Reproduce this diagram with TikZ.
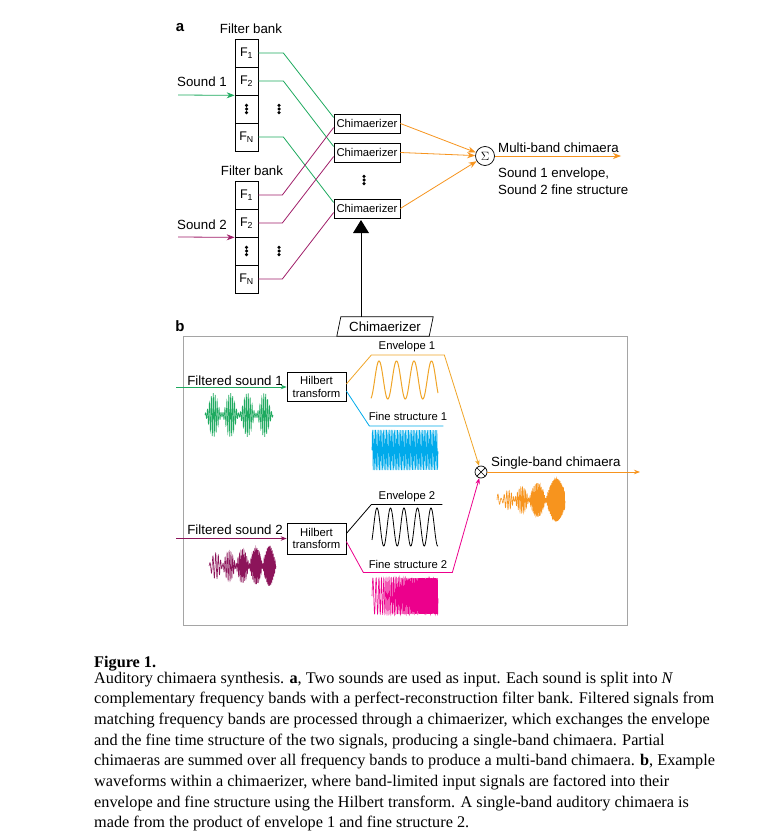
\documentclass[tikz,border=0pt]{standalone}
\usepackage{fontspec}
\setmainfont{Liberation Serif}
\newfontfamily\lab{Liberation Sans}
\usetikzlibrary{arrows.meta,calc}
\definecolor{sgreen}{RGB}{30,170,95}
\definecolor{smag}{RGB}{160,30,105}
\definecolor{sorange}{RGB}{247,148,30}
\definecolor{envor}{RGB}{240,165,40}
\definecolor{sblue}{RGB}{0,170,235}
\definecolor{spink}{RGB}{236,0,140}
\definecolor{darkmag}{RGB}{140,20,90}
\definecolor{boxgray}{RGB}{165,165,165}
\tikzset{
  lbl/.style={font=\lab\fontsize{13.3}{15}\selectfont, inner sep=0},
  sml/.style={font=\lab\fontsize{11.3}{13}\selectfont, inner sep=0},
  fbcell/.style={draw, line width=0.7, minimum width=23, minimum height=28, inner sep=0, font=\lab\fontsize{12.5}{14}\selectfont},
  chzbox/.style={draw, line width=0.7, fill=white, minimum width=66, minimum height=19, inner sep=0, font=\lab\fontsize{11.3}{13}\selectfont},
  hilbox/.style={draw, line width=0.7, minimum width=59, inner sep=0, align=center, font=\lab\fontsize{11.3}{12.8}\selectfont},
  arra/.style={-{Stealth[length=8pt,width=6pt]}},
  arrb/.style={-{Stealth[length=6pt,width=4.5pt]}},
  wire/.style={line width=0.8},
  panlbl/.style={font=\lab\bfseries\fontsize{15}{17}\selectfont, inner sep=0},
  capline/.style={anchor=base west, inner sep=0, font=\fontsize{16.25}{20}\selectfont},
  vd/.pic={\fill (0,-3.7) circle (1.75) (0,0) circle (1.75) (0,3.7) circle (1.75);}
}
\begin{document}
\begin{tikzpicture}[x=1pt,y=-1pt]
\useasboundingbox (0,0) rectangle (776,840);
\fill[white] (0,0) rectangle (776,840);

% ---------- panel a ----------
\node[panlbl] (pa) at (180,28) {a};
\node[lbl] (fbl1) at (251,29) {Filter bank};
\node[fbcell] (f11) at (246.5,53) {F\textsubscript{1}};
\node[fbcell] (f12) at (246.5,81) {F\textsubscript{2}};
\node[fbcell] (f1d) at (246.5,109) {};
\node[fbcell] (f1n) at (246.5,137) {F\textsubscript{N}};
\pic at (246.5,109) {vd};
\pic at (279,109) {vd};
\node[lbl] (snd1) at (202,82) {Sound 1};
\coordinate (s1in) at (178,95);
\draw[wire, sgreen, arra] (s1in) -- (f12.south west);

\node[lbl] (fbl2) at (252,171) {Filter bank};
\node[fbcell] (f21) at (246.5,195) {F\textsubscript{1}};
\node[fbcell] (f22) at (246.5,223) {F\textsubscript{2}};
\node[fbcell] (f2d) at (246.5,251) {};
\node[fbcell] (f2n) at (246.5,279) {F\textsubscript{N}};
\pic at (246.5,251) {vd};
\pic at (279,251) {vd};
\node[lbl] (snd2) at (202,225) {Sound 2};
\coordinate (s2in) at (178,237);
\draw[wire, smag, arra] (s2in) -- (f22.south west);

\node[chzbox] (c1) at (367,123.5) {Chimaerizer};
\node[chzbox] (c2) at (367,152.5) {Chimaerizer};
\node[chzbox] (c3) at (367,208.5) {Chimaerizer};
\pic at (364,180) {vd};

\draw[wire, sgreen] (f11.east) -- ++(25,0) -- ([yshift=6pt]c1.west);
\draw[wire, sgreen] (f12.east) -- ++(25,0) -- ([yshift=6pt]c2.west);
\draw[wire, sgreen] (f1n.east) -- ++(25,0) -- ([yshift=6pt]c3.west);
\draw[wire, smag] (f21.east) -- ++(24,0) -- ([yshift=-4pt]c1.west);
\draw[wire, smag] (f22.east) -- ++(24,0) -- ([yshift=-4pt]c2.west);
\draw[wire, smag] (f2n.east) -- ++(24,0) -- ([yshift=-4pt]c3.west);
\node[chzbox] at (c1) {Chimaerizer};
\node[chzbox] at (c2) {Chimaerizer};
\node[chzbox] at (c3) {Chimaerizer};

\node[circle, draw, line width=0.7, minimum size=19, inner sep=0, font=\fontsize{12.5}{13}\selectfont] (sig) at (485,156) {$\Sigma$};
\draw[wire, sorange, arra] (c1.east) -- (sig);
\draw[wire, sorange, arra] (c2.east) -- (sig);
\draw[wire, sorange, arra] (c3.east) -- (sig);
\coordinate (mbout) at (621,156);
\draw[wire, sorange, arra] (sig.east) -- (mbout);
\node[lbl, anchor=base west] (mbl) at (498,152) {Multi-band chimaera};
\node[lbl, anchor=base west] (mb2) at (498,177) {Sound 1 envelope,};
\node[lbl, anchor=base west] (mb3) at (498,194) {Sound 2 fine structure};

\fill (353,233) -- (361,220) -- (369,233) -- cycle;
\coordinate (tb) at (361,232);

% ---------- panel b ----------
\node[panlbl] (pb) at (180,326) {b};
\draw[boxgray, line width=1] (183,336) rectangle (627,625);
\node[inner sep=0, minimum width=92, minimum height=19, font=\lab\fontsize{13.3}{15}\selectfont] (chz) at (385,326.5) {Chimaerizer};
\draw[line width=0.7, fill=white] ([xshift=-2pt]chz.south west) -- ([xshift=2pt]chz.north west) -- ([xshift=2pt]chz.north east) -- ([xshift=-2pt]chz.south east) -- cycle;
\node[inner sep=0, font=\lab\fontsize{13.3}{15}\selectfont] at (chz) {Chimaerizer};
\draw[line width=0.8] (tb) -- (tb |- chz.north);

\node[hilbox, minimum height=29] (hb1) at (316.5,387) {Hilbert\\transform};
\node[hilbox, minimum height=31] (hb2) at (316.5,538.5) {Hilbert\\transform};
\node[lbl] (fs1) at (235,381) {Filtered sound 1};
\node[lbl] (fs2) at (235,530) {Filtered sound 2};
\coordinate (in1) at (176,387);
\coordinate (in2) at (176,538.5);
\draw[wire, sgreen, arrb] (in1) -- (hb1.west);
\draw[wire, darkmag, arrb] (in2) -- (hb2.west);

\node[circle, draw, line width=0.7, minimum size=12, inner sep=0,
  path picture={\draw[line width=0.7] (path picture bounding box.north west) -- (path picture bounding box.south east)
     (path picture bounding box.north east) -- (path picture bounding box.south west);}] (mul) at (481,472) {};

\draw[wire, envor, arrb] ([yshift=3pt]hb1.east) -- ++(25,-29) -- ++(73,0) -- (mul);
\draw[wire, sblue] ([yshift=-4pt]hb1.east) -- ++(23,35) -- ++(74,0);
\draw[wire] ([yshift=5pt]hb2.east) -- ++(25,-29) -- ++(71,0);
\draw[wire, spink, arrb] ([yshift=-3pt]hb2.east) -- ++(17,31) -- ++(89,0) -- (mul);
\coordinate (sbout) at (640,472);
\draw[wire, sorange, arrb] (mul.east) -- (sbout);

\node[sml] (e1) at (407,347) {Envelope 1};
\node[sml] (ft1) at (408,416) {Fine structure 1};
\node[sml] (e2) at (407,497) {Envelope 2};
\node[sml] (ft2) at (408,564.5) {Fine structure 2};
\node[lbl, anchor=base west] (sbl) at (491,466) {Single-band chimaera};

% waveforms
\draw[sgreen, line width=0.6] plot[domain=0:1, samples=561]
  ({205+68*\x}, {415 - (2+20*(sin(720*\x))^2)*sin(360*frac(35*\x))});
\draw[darkmag, line width=0.6] plot[domain=0:1, samples=801]
  ({209+67*\x}, {566 - (1+20*(0.55+0.45*\x)*abs(sin(900*\x)))*sin(360*frac(20*\x+25*\x*\x))});
\draw[envor, line width=1] plot[domain=0:67, samples=160]
  ({371+\x}, {380 - 19*sin(\x/17.5*360 - 75)});
\draw[sblue, line width=0.6] plot[domain=0:1, samples=337]
  ({372+66*\x}, {450 - 20*sin(360*frac(42*\x))});
\draw[black, line width=0.8] plot[domain=0:66, samples=160]
  ({372+\x}, {527 - 19*sin(\x/13.5*360 - 43)});
\draw[spink, line width=0.6] plot[domain=0:1, samples=901]
  ({372+66*\x}, {596 - 18*sin(360*frac(18*\x+32*\x*\x))});
\draw[sorange, line width=0.6] plot[domain=0:1, samples=901]
  ({497+68*\x}, {500 - (1+23*(0.25+0.75*\x)*abs(sin(180*(5.8*\x-1.5*\x*\x-0.39))))*sin(360*frac(18*\x+32*\x*\x))});

% ---------- caption ----------
\node[capline] (cap0) at (94,667.5) {\textbf{Figure 1.}};
\node[capline] (cap1) at (94,683) {Auditory chimaera synthesis. \textbf{a}, Two sounds are used as input. Each sound is split into \textit{N}};
\node[capline] (cap2) at (94,703.7) {complementary frequency bands with a perfect-reconstruction filter bank. Filtered signals from};
\node[capline] (cap3) at (94,724.4) {matching frequency bands are processed through a chimaerizer, which exchanges the envelope};
\node[capline] (cap4) at (94,745.1) {and the fine time structure of the two signals, producing a single-band chimaera. Partial};
\node[capline] (cap5) at (94,765.8) {chimaeras are summed over all frequency bands to produce a multi-band chimaera. \textbf{b}, Example};
\node[capline] (cap6) at (94,786.5) {waveforms within a chimaerizer, where band-limited input signals are factored into their};
\node[capline] (cap7) at (94,807.2) {envelope and fine structure using the Hilbert transform. A single-band auditory chimaera is};
\node[capline] (cap8) at (94,827.9) {made from the product of envelope 1 and fine structure 2.};
\end{tikzpicture}
\end{document}
